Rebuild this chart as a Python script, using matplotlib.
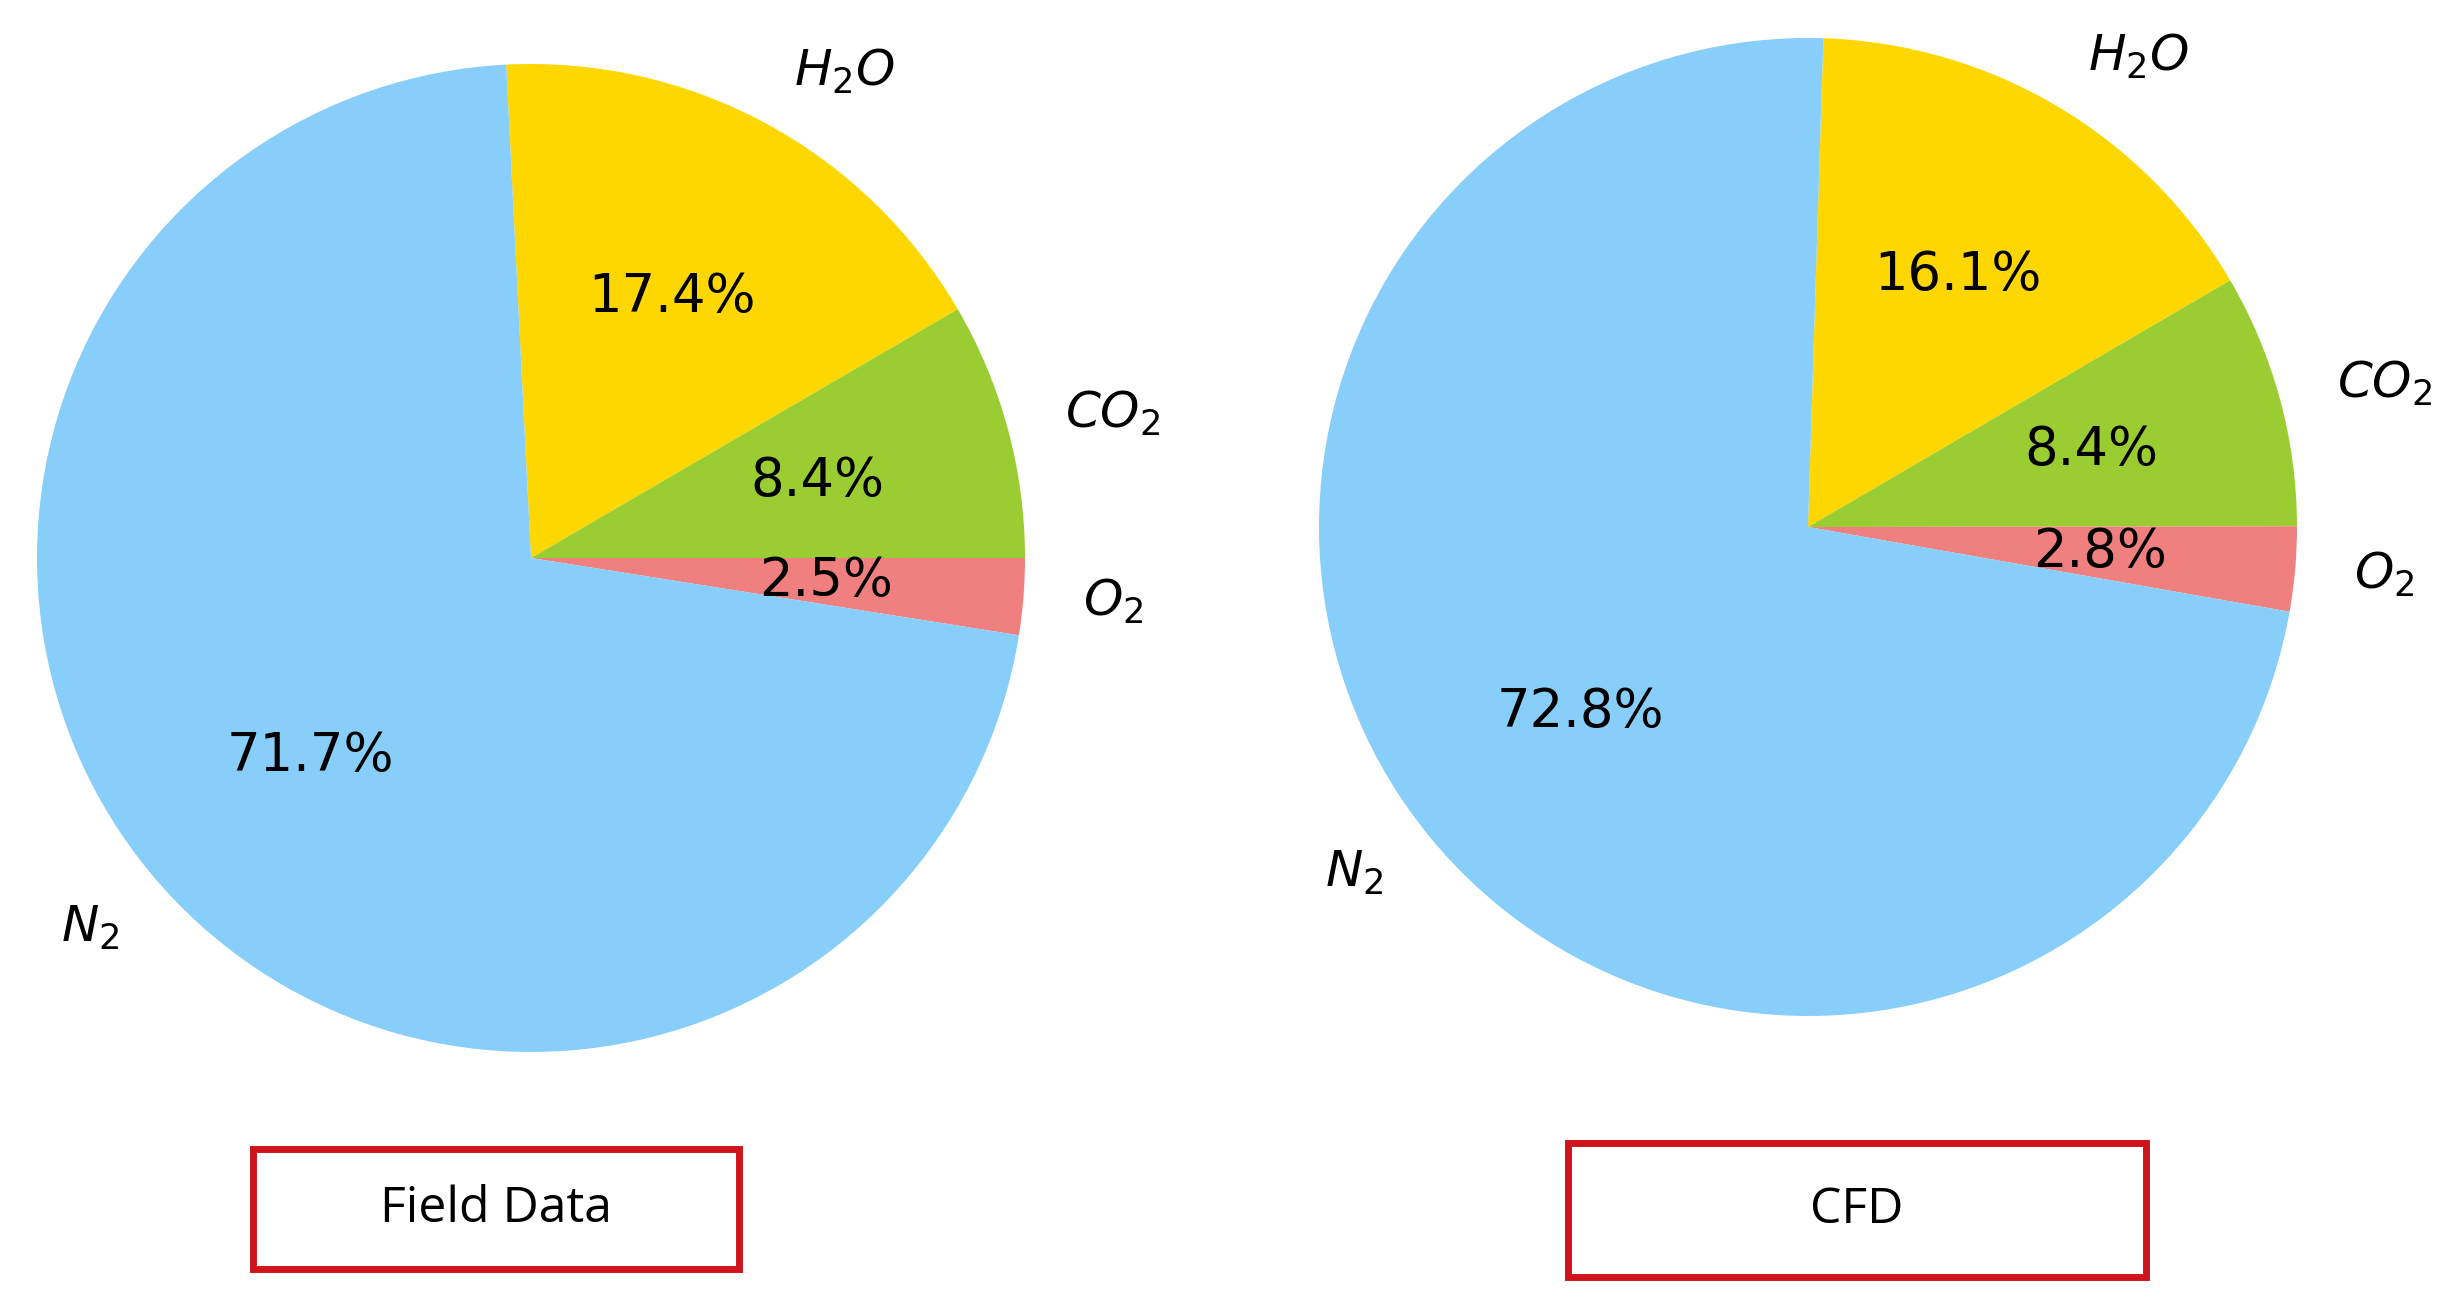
import matplotlib
matplotlib.use("Agg")
import matplotlib.pyplot as plt
from matplotlib.patches import Rectangle

labels = ["$H_2O$", "$CO_2$", "$O_2$", "$N_2$"]
field_values = [17.4, 8.4, 2.5, 71.7]
cfd_values = [16.1, 8.4, 2.8, 72.8]
colors = ["#FFD700", "#9ACD32", "#F08080", "#87CEFA"]
titles = ["Field Data", "CFD"]

W, H = 2451, 1302
fig = plt.figure(figsize=(W/100, H/100), dpi=100)

axes_px = [(531, 558, 494), (1808, 527, 489)]
boxes_px = [(253, 1149, 739, 1269), (1568, 1143, 2146, 1277)]

for vals, (cx, cy, r), title, (x0, y0, x1, y1) in zip([field_values, cfd_values], axes_px, titles, boxes_px):
    ax = fig.add_axes([(cx - r)/W, 1 - (cy + r)/H, 2*r/W, 2*r/H])
    start = (vals[0] + vals[1]) * 3.6
    _, texts, autotexts = ax.pie(vals, labels=labels, colors=colors, autopct="%1.1f%%",
                                 startangle=start, counterclock=False,
                                 labeldistance=1.12, pctdistance=0.6,
                                 textprops=dict(fontsize=38))
    for t, v in zip(autotexts, vals):
        t.set_text(f"{v:.1f}%")
    for t in texts:
        t.set_fontsize(36)
    ax.set_xlim(-1, 1)
    ax.set_ylim(-1, 1)
    ax.set_aspect("equal")
    ax.axis("off")
    fig.patches.append(Rectangle((x0/W, 1 - y1/H), (x1 - x0)/W, (y1 - y0)/H,
                                 transform=fig.transFigure, fill=False,
                                 edgecolor="#D0141C", linewidth=5))
    fig.text((x0 + x1)/2/W, 1 - (y0 + y1)/2/H, title, ha="center", va="center",
             fontsize=36, family="Open Sans")

fig.savefig("out.png", dpi=100)
